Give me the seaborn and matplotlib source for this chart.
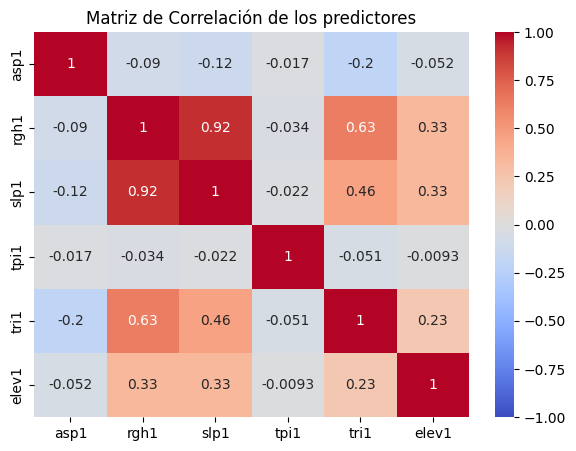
import numpy as np
import pandas as pd
import seaborn as sns
import matplotlib.pyplot as plt

# predictor names
predictors = ["asp1", "rgh1", "slp1", "tpi1", "tri1", "elev1"]

# correlation values
asp1 = [1, -0.09, -0.12, -0.017, -0.2, -0.052]
rgh1 = [-0.09, 1, 0.92, -0.034, 0.63, 0.33]
slp1 = [-0.12, 0.92, 1, -0.022, 0.46, 0.33]
tpi1 = [-0.017, -0.034, -0.022, 1, -0.051, -0.0093]
tri1 = [-0.2, 0.63, 0.46, -0.051, 1, 0.23]
elev1 = [-0.052, 0.33, 0.33, -0.0093, 0.23, 1]

corr = pd.DataFrame([asp1, rgh1, slp1, tpi1, tri1, elev1], index=predictors, columns=predictors)

fig = plt.figure(figsize=(5.76, 4.51), dpi=100)
ax = fig.add_axes([34.2 / 576, 33.8 / 451, 434.8 / 576, 385.2 / 451])
cax = fig.add_axes([495 / 576, 33.8 / 451, 19 / 576, 385.2 / 451])

sns.heatmap(corr, annot=True, cmap="coolwarm", vmin=-1, vmax=1, ax=ax, cbar_ax=cax)
ax.set_title("Matriz de Correlación de los predictores")

plt.savefig("out.png", dpi=100)
